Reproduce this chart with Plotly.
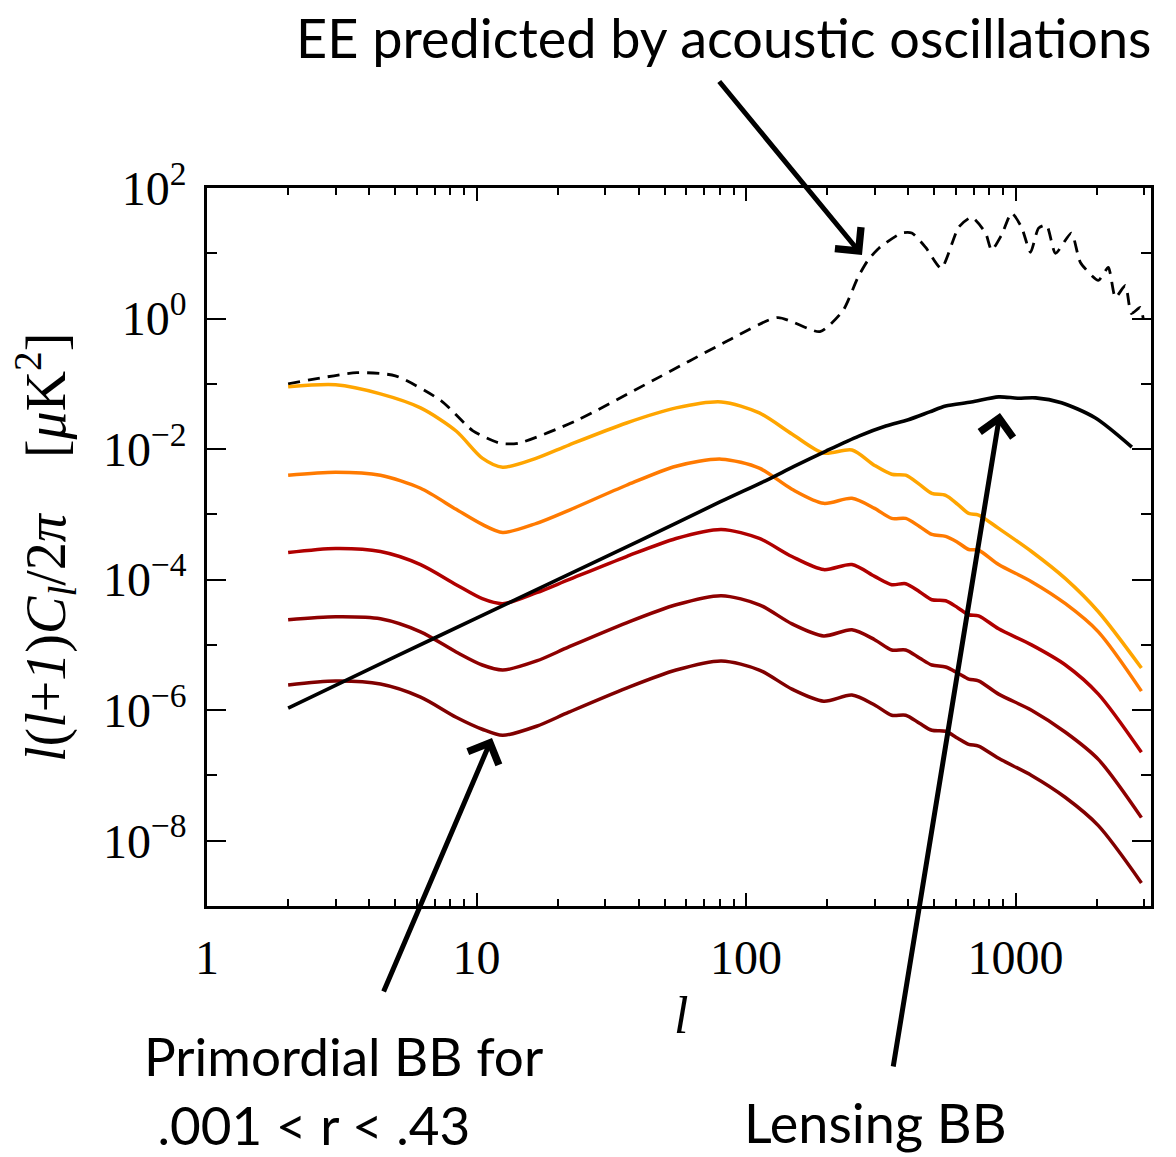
import numpy as np
import plotly.graph_objects as go

# ---------------- data ----------------
# multipole l for the primordial (tensor) BB curves
ell_bb = [2, 3, 4.4, 6.2, 8.4, 10.5, 12.5, 16.7, 22, 36, 55, 81, 112, 148, 194,
          247, 300, 347, 391, 440, 489, 550, 610, 670, 729, 865, 1146, 1531, 2028, 2930]

# log10 of l(l+1)C_l/2pi [uK^2] for the five primordial BB curves (largest r first)
bb1_log10 = [-1.046, -1.015, -1.154, -1.369, -1.723, -2.138, -2.277, -2.138, -1.938, -1.600,
             -1.369, -1.277, -1.446, -1.769, -2.062, -2.015, -2.250, -2.385, -2.400, -2.540,
             -2.677, -2.708, -2.846, -2.985, -3.010, -3.215, -3.569, -3.985, -4.492, -5.354]
bb2_log10 = [-2.400, -2.354, -2.400, -2.600, -2.923, -3.154, -3.277, -3.138, -2.938, -2.554,
             -2.262, -2.154, -2.292, -2.615, -2.831, -2.754, -2.908, -3.062, -3.062, -3.185,
             -3.308, -3.338, -3.430, -3.538, -3.550, -3.769, -4.031, -4.369, -4.800, -5.708]
bb3_log10 = [-3.585, -3.523, -3.569, -3.769, -4.077, -4.292, -4.369, -4.200, -4.000, -3.646,
             -3.369, -3.231, -3.369, -3.646, -3.846, -3.769, -3.950, -4.077, -4.062, -4.185,
             -4.308, -4.323, -4.430, -4.538, -4.554, -4.754, -5.000, -5.308, -5.754, -6.646]
bb4_log10 = [-4.615, -4.569, -4.600, -4.800, -5.108, -5.308, -5.385, -5.246, -5.031, -4.662,
             -4.385, -4.246, -4.385, -4.677, -4.862, -4.769, -4.920, -5.077, -5.077, -5.200,
             -5.308, -5.338, -5.430, -5.523, -5.550, -5.754, -6.000, -6.338, -6.754, -7.646]
bb5_log10 = [-5.615, -5.554, -5.600, -5.800, -6.108, -6.292, -6.385, -6.246, -6.031, -5.662,
             -5.385, -5.246, -5.385, -5.677, -5.862, -5.769, -5.920, -6.077, -6.077, -6.200,
             -6.308, -6.323, -6.430, -6.523, -6.550, -6.738, -7.000, -7.338, -7.769, -8.646]

# lensing BB
ell_lens = [2, 5, 10, 20, 40, 80, 120, 150, 198, 262, 330, 400, 480, 550, 685, 865, 1017,
            1187, 1480, 1972, 2700]
lens_log10 = [-5.97, -5.18, -4.59, -4.00, -3.41, -2.81, -2.47, -2.27, -2.03, -1.80, -1.646,
              -1.55, -1.43, -1.34, -1.28, -1.20, -1.22, -1.215, -1.29, -1.52, -1.97]

# EE spectrum
ell_ee = [2, 3.6, 5, 7.4, 9.7, 12.2, 14.3, 23.3, 44.9, 85.8, 131, 188, 229, 260, 283, 311,
          378, 412, 464, 530, 615, 687, 774, 815, 887, 967, 1052, 1136, 1217, 1303, 1406,
          1611, 1740, 2028, 2208, 2346, 2555, 2690, 2903, 2975]
ee_log10 = [-1.0, -0.83, -0.877, -1.26, -1.72, -1.91, -1.91, -1.57, -0.954, -0.338, 0.015,
            -0.20, 0.123, 0.63, 0.89, 1.077, 1.31, 1.31, 1.09, 0.77, 1.40, 1.55, 1.31, 1.046,
            1.28, 1.615, 1.40, 1.015, 1.385, 1.43, 1.0, 1.31, 0.86, 0.585, 0.785, 0.323,
            0.508, 0.077, 0.17, 0.0]

x_tick_vals = [1, 10, 100, 1000]
x_tick_text = ["1", "10", "100", "1000"]
x_minor_vals = [2, 3, 4, 5, 6, 7, 8, 9, 20, 30, 40, 50, 60, 70, 80, 90,
                200, 300, 400, 500, 600, 700, 800, 900, 2000, 3000]
y_tick_vals = [1e2, 1e0, 1e-2, 1e-4, 1e-6, 1e-8]
y_tick_text = ["10<sup>2</sup>", "10<sup>0</sup>", "10<sup>\u22122</sup>",
               "10<sup>\u22124</sup>", "10<sup>\u22126</sup>", "10<sup>\u22128</sup>"]
y_minor_vals = [1e1, 1e-1, 1e-3, 1e-5, 1e-7]

bb_colors = ["#FFA500", "#FF7A00", "#B00000", "#8E0000", "#800000"]

# ---------------- figure ----------------
fig = go.Figure()

fig.add_trace(go.Scatter(x=ell_ee, y=np.power(10.0, ee_log10), mode="lines",
                         line=dict(color="black", width=2.8, dash="12px,8px",
                                   shape="spline", smoothing=0.6)))
for vals, col in zip([bb1_log10, bb2_log10, bb3_log10, bb4_log10, bb5_log10], bb_colors):
    fig.add_trace(go.Scatter(x=ell_bb, y=np.power(10.0, vals), mode="lines",
                             line=dict(color=col, width=3.5, shape="spline", smoothing=0.8)))
fig.add_trace(go.Scatter(x=ell_lens, y=np.power(10.0, lens_log10), mode="lines",
                         line=dict(color="black", width=3.6, shape="spline", smoothing=0.8)))

L, R, T, B = 207, 25, 188, 251
W, H = 1176, 1157
PW, PH = W - L - R, H - T - B


def px(xp):
    return (xp - L) / PW


def py(yp):
    return (H - B - yp) / PH


tick_font = dict(family="Liberation Serif", size=48, color="black")
fig.update_layout(width=W, height=H, margin=dict(l=L, r=R, t=T, b=B),
                  plot_bgcolor="white", paper_bgcolor="white", showlegend=False)
fig.update_xaxes(type="log", range=[0, np.log10(3180)], showgrid=False, zeroline=False,
                 showline=True, linecolor="black", linewidth=2.5, mirror="ticks",
                 ticks="inside", ticklen=13, tickwidth=2, tickcolor="black",
                 tickvals=x_tick_vals, ticktext=x_tick_text, tickfont=tick_font,
                 ticklabelstandoff=8,
                 minor=dict(ticks="inside", ticklen=7, tickwidth=2, tickcolor="black",
                            tickvals=x_minor_vals, showgrid=False))
fig.update_yaxes(type="log", range=[-9, 2], showgrid=False, zeroline=False,
                 showline=True, linecolor="black", linewidth=2.5, mirror="ticks",
                 ticks="inside", ticklen=19, tickwidth=2, tickcolor="black",
                 tickvals=y_tick_vals, ticktext=y_tick_text, tickfont=tick_font,
                 ticklabelstandoff=8,
                 minor=dict(ticks="inside", ticklen=10, tickwidth=2, tickcolor="black",
                            tickvals=y_minor_vals, showgrid=False))

sans = dict(family="Lato", size=54, color="black")

# axis titles
fig.add_annotation(x=px(681), y=py(1015), xref="paper", yref="paper", showarrow=False,
                   xanchor="center", yanchor="middle", text="<i>l</i>",
                   font=dict(family="Liberation Serif", size=52, color="black"))
fig.add_annotation(x=px(45), y=py(548), xref="paper", yref="paper", showarrow=False,
                   xanchor="center", yanchor="middle", textangle=-90,
                   font=dict(family="Liberation Serif", size=56, color="black"),
                   text="<i>l</i>(<i>l</i>+<i>1</i>)<i>C<sub>l</sub></i>/2<i>\u03c0</i>"
                        "\u00a0\u00a0\u00a0\u00a0[<i>\u03bc</i>K<sup>2</sup>]")

# labels
fig.add_annotation(x=px(1153), y=py(37), xref="paper", yref="paper", showarrow=False,
                   xanchor="right", yanchor="middle",
                   text="EE predicted by acoustic oscillations", font=sans)
fig.add_annotation(x=px(143), y=py(1157), xref="paper", yref="paper", showarrow=False,
                   xanchor="left", yanchor="bottom", align="left", borderpad=0,
                   text="Primordial BB for<br>\u00a0.001 &lt; r &lt; .43",
                   font=dict(family="Lato", size=53, color="black"))
fig.add_annotation(x=px(742), y=py(1122), xref="paper", yref="paper", showarrow=False,
                   xanchor="left", yanchor="middle", text="Lensing BB", font=sans)

# arrows (head position, tail offset in pixels)
for hx, hy, tx, ty in [(862, 255, 718, 80), (492, 738, 383, 993), (1000, 413, 893, 1068)]:
    fig.add_annotation(x=px(hx), y=py(hy), xref="paper", yref="paper",
                       ax=tx - hx, ay=ty - hy, axref="pixel", ayref="pixel",
                       showarrow=True, arrowhead=4, arrowsize=1.3, arrowwidth=5,
                       arrowcolor="black", text="", standoff=0)

fig.write_html("out.html")
